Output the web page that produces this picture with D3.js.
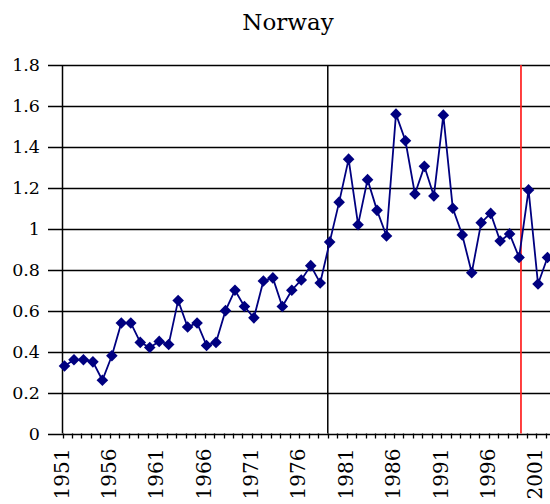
<!DOCTYPE html>
<head>
<title>Norway</title>
<style>
  body { margin: 0; background: #fff; }
</style>
</head>
<body>
<svg width="550" height="504" id="svg1"></svg>
<script src="https://d3js.org/d3.v7.min.js"></script>
<script>

var years = d3.range(1951, 2003);
var values = [0.33, 0.36, 0.36, 0.35, 0.26, 0.38, 0.54, 0.54, 0.445, 0.42,
              0.45, 0.435, 0.65, 0.52, 0.54, 0.43, 0.445, 0.60, 0.70, 0.62,
              0.565, 0.745, 0.76, 0.62, 0.70, 0.75, 0.82, 0.735, 0.935, 1.13,
              1.34, 1.02, 1.24, 1.09, 0.965, 1.56, 1.43, 1.17, 1.305, 1.16,
              1.555, 1.10, 0.97, 0.785, 1.03, 1.075, 0.94, 0.975, 0.86, 1.19,
              0.73, 0.86];
var yTicks = [0, 0.2, 0.4, 0.6, 0.8, 1, 1.2, 1.4, 1.6, 1.8];
var xLabels = ["1951", "1956", "1961", "1966", "1971", "1976", "1981", "1986", "1991", "1996", "2001"];
var blackLineYear = 1978.8;
var redLineYear = 1999.2;

var data = years.map(function(y, i) { return {year: y, value: values[i]}; });

var svg = d3.select("#svg1"),
    width = +svg.attr("width"),
    height = +svg.attr("height");

var axisX = 62;

var x = d3.scaleLinear()
    .domain([1951, 2002])
    .range([64.5, 547.5]);

var y = d3.scaleLinear()
    .domain([0, 1.8])
    .range([433.5, 65]);

// title
svg.append("text")
    .attr("x", 288)
    .attr("y", 30)
    .attr("text-anchor", "middle")
    .style("font-family", "DejaVu Serif")
    .style("font-size", "23px")
    .text("Norway");

// horizontal gridlines + y ticks
svg.append("g").selectAll("line")
  .data(yTicks).enter()
  .append("line")
    .attr("x1", 48)
    .attr("x2", width)
    .attr("y1", function(d) { return Math.round(y(d)) + 0.5; })
    .attr("y2", function(d) { return Math.round(y(d)) + 0.5; })
    .attr("stroke", "#000")
    .attr("stroke-width", 1.5);

svg.append("g").selectAll("text")
  .data(yTicks).enter()
  .append("text")
    .attr("x", 40)
    .attr("y", function(d) { return y(d); })
    .attr("dy", "0.36em")
    .attr("text-anchor", "end")
    .style("font-family", "DejaVu Serif")
    .style("font-size", "17.5px")
    .text(function(d) { return d; });

// y axis line
svg.append("line")
    .attr("x1", axisX + 0.5).attr("x2", axisX + 0.5)
    .attr("y1", y(1.8)).attr("y2", y(0))
    .attr("stroke", "#000")
    .attr("stroke-width", 1.5);

// x ticks
svg.append("g").selectAll("line")
  .data(years).enter()
  .append("line")
    .attr("x1", function(d) { return Math.round(x(d) - 2) + 0.5; })
    .attr("x2", function(d) { return Math.round(x(d) - 2) + 0.5; })
    .attr("y1", y(0))
    .attr("y2", y(0) + 5)
    .attr("stroke", "#000")
    .attr("stroke-width", 1.3);

svg.append("g").selectAll("text")
  .data(xLabels).enter()
  .append("text")
    .attr("transform", function(d) { return "translate(" + (x(+d) - 3) + "," + (y(0) + 15) + ") rotate(-90)"; })
    .attr("dy", "0.36em")
    .attr("text-anchor", "end")
    .style("font-family", "DejaVu Serif")
    .style("font-size", "20px")
    .text(function(d) { return d; });

// marker lines
svg.append("line")
    .attr("x1", x(blackLineYear)).attr("x2", x(blackLineYear))
    .attr("y1", y(1.8)).attr("y2", y(0))
    .attr("stroke", "#000")
    .attr("stroke-width", 1.5);

svg.append("line")
    .attr("x1", x(redLineYear)).attr("x2", x(redLineYear))
    .attr("y1", y(1.8)).attr("y2", y(0))
    .attr("stroke", "#ff2020")
    .attr("stroke-width", 1.7);

// series
var line = d3.line()
    .x(function(d) { return x(d.year); })
    .y(function(d) { return y(d.value); });

svg.append("path")
    .datum(data)
    .attr("d", line)
    .attr("fill", "none")
    .attr("stroke", "#000080")
    .attr("stroke-width", 1.8);

svg.append("g").selectAll("path")
  .data(data).enter()
  .append("path")
    .attr("transform", function(d) { return "translate(" + x(d.year) + "," + y(d.value) + ")"; })
    .attr("d", "M0,-5.8L5.8,0L0,5.8L-5.8,0Z")
    .attr("fill", "#000080");

</script>
</body>
